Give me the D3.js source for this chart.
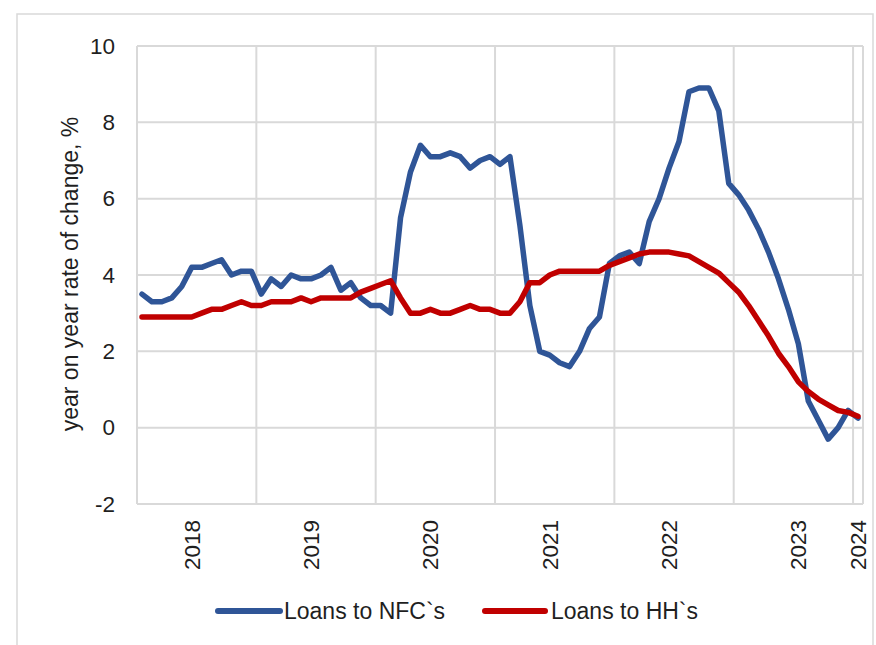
<!DOCTYPE html>
<html>
<head>
<meta charset="utf-8">
<script src="https://cdn.jsdelivr.net/npm/d3@7/dist/d3.min.js"></script>
<style>
  html, body { margin: 0; padding: 0; background: #ffffff; }
  svg { display: block; }
  text { font-family: "Liberation Sans", Arial, sans-serif; fill: #1f1f1f; }
</style>
</head>
<body>
<script>
// ---- Data ----
const months = [];
for (let y = 2018; y <= 2024; y++) {
  for (let m = 1; m <= 12; m++) {
    if (y === 2024 && m > 1) break;
    months.push(y + "-" + String(m).padStart(2, "0"));
  }
}
const loansNFC = [
  3.5, 3.3, 3.3, 3.4, 3.7, 4.2, 4.2, 4.3, 4.4, 4.0, 4.1, 4.1,
  3.5, 3.9, 3.7, 4.0, 3.9, 3.9, 4.0, 4.2, 3.6, 3.8, 3.4, 3.2,
  3.2, 3.0, 5.5, 6.7, 7.4, 7.1, 7.1, 7.2, 7.1, 6.8, 7.0, 7.1,
  6.9, 7.1, 5.3, 3.2, 2.0, 1.9, 1.7, 1.6, 2.0, 2.6, 2.9, 4.3,
  4.5, 4.6, 4.3, 5.4, 6.0, 6.8, 7.5, 8.8, 8.9, 8.9, 8.3, 6.4,
  6.1, 5.7, 5.2, 4.6, 3.9, 3.1, 2.2, 0.7, 0.2, -0.3, 0.0, 0.45,
  0.25
];
const loansHH = [
  2.9, 2.9, 2.9, 2.9, 2.9, 2.9, 3.0, 3.1, 3.1, 3.2, 3.3, 3.2,
  3.2, 3.3, 3.3, 3.3, 3.4, 3.3, 3.4, 3.4, 3.4, 3.4, 3.55, 3.65,
  3.75, 3.85, 3.4, 3.0, 3.0, 3.1, 3.0, 3.0, 3.1, 3.2, 3.1, 3.1,
  3.0, 3.0, 3.3, 3.8, 3.8, 4.0, 4.1, 4.1, 4.1, 4.1, 4.1, 4.25,
  4.35, 4.45, 4.55, 4.6, 4.6, 4.6, 4.55, 4.5, 4.35, 4.2, 4.05, 3.8,
  3.55, 3.2, 2.8, 2.4, 1.95, 1.6, 1.2, 0.95, 0.75, 0.6, 0.45, 0.4,
  0.3
];
const xTickCats = ["2018-06", "2019-06", "2020-06", "2021-06", "2022-06", "2023-07", "2024-01"];
const xTickLabels = ["2018", "2019", "2020", "2021", "2022", "2023", "2024"];
const yTicks = [-2, 0, 2, 4, 6, 8, 10];
const yTickLabels = ["-2", "0", "2", "4", "6", "8", "10"];
const seriesNames = ["Loans to NFC`s", "Loans to HH`s"];
const seriesColors = ["#2F5597", "#C00000"];

// ---- Layout ----
const W = 876, H = 645;
const plot = { left: 137, right: 863, top: 46, bottom: 504 };
const FONT = '"Liberation Sans", Arial, sans-serif';

const svg = d3.select("body").append("svg").attr("width", W).attr("height", H);

// outer frame
svg.append("rect").attr("x", 17).attr("y", 14).attr("width", 856).attr("height", 632)
  .attr("fill", "#fff").attr("stroke", "#d9d9d9").attr("stroke-width", 1.5);

const x = d3.scaleBand().domain(months).range([plot.left, plot.right]).paddingInner(0).paddingOuter(0);
const y = d3.scaleLinear().domain([-2, 10]).range([plot.bottom, plot.top]);
const cx = d => x(d) + x.bandwidth() / 2;

const grid = svg.append("g").attr("stroke", "#d9d9d9").attr("stroke-width", 2);
grid.selectAll("line.h").data(yTicks).join("line")
  .attr("x1", plot.left).attr("x2", plot.right)
  .attr("y1", d => y(d)).attr("y2", d => y(d));
const vCats = months.filter(m => m.endsWith("-01"));
grid.selectAll("line.v").data(vCats).join("line")
  .attr("x1", d => x(d)).attr("x2", d => x(d))
  .attr("y1", plot.top).attr("y2", plot.bottom);
grid.append("line").attr("x1", plot.right).attr("x2", plot.right)
  .attr("y1", plot.top).attr("y2", plot.bottom);

// y axis tick labels
const yAxis = d3.axisLeft(y).tickValues(yTicks).tickSize(0).tickPadding(0)
  .tickFormat(d => yTickLabels[yTicks.indexOf(d)]);
const yg = svg.append("g").attr("transform", `translate(${plot.left - 22},0)`).call(yAxis);
yg.select(".domain").remove();
yg.selectAll("text").attr("font-size", 22.5).attr("fill", "#1f1f1f").style("font-family", FONT);

// x axis tick labels (rotated)
const xAxis = d3.axisBottom(x).tickValues(xTickCats).tickSize(0)
  .tickFormat(d => xTickLabels[xTickCats.indexOf(d)]);
const xg = svg.append("g").attr("transform", `translate(0,${plot.bottom})`).call(xAxis);
xg.select(".domain").remove();
xg.selectAll("text")
  .attr("font-size", 22.5).attr("fill", "#1f1f1f")
  .style("font-family", FONT)
  .attr("text-anchor", "end")
  .attr("dy", "0.35em")
  .attr("transform", "translate(0,16) rotate(-90)")
  .attr("x", 0).attr("y", 0);

// y axis title
svg.append("text")
  .attr("transform", `translate(78,274) rotate(-90)`)
  .attr("text-anchor", "middle")
  .attr("font-size", 23)
  .text("year on year rate of change, %");

// lines
const line = d3.line().x((d, i) => cx(months[i])).y(d => y(d)).curve(d3.curveLinear);
[loansNFC, loansHH].forEach((s, k) => {
  svg.append("path").datum(s)
    .attr("fill", "none").attr("stroke", seriesColors[k]).attr("stroke-width", 5.5)
    .attr("stroke-linejoin", "round").attr("stroke-linecap", "round")
    .attr("d", line);
});

// legend
const legendItems = [
  { x1: 218, x2: 280, tx: 284 },
  { x1: 485, x2: 545, tx: 551 }
];
legendItems.forEach((it, k) => {
  svg.append("line").attr("x1", it.x1).attr("x2", it.x2).attr("y1", 611).attr("y2", 611)
    .attr("stroke", seriesColors[k]).attr("stroke-width", 6).attr("stroke-linecap", "round");
  svg.append("text").attr("x", it.tx).attr("y", 619).attr("font-size", 23).text(seriesNames[k]);
});
</script>
</body>
</html>
